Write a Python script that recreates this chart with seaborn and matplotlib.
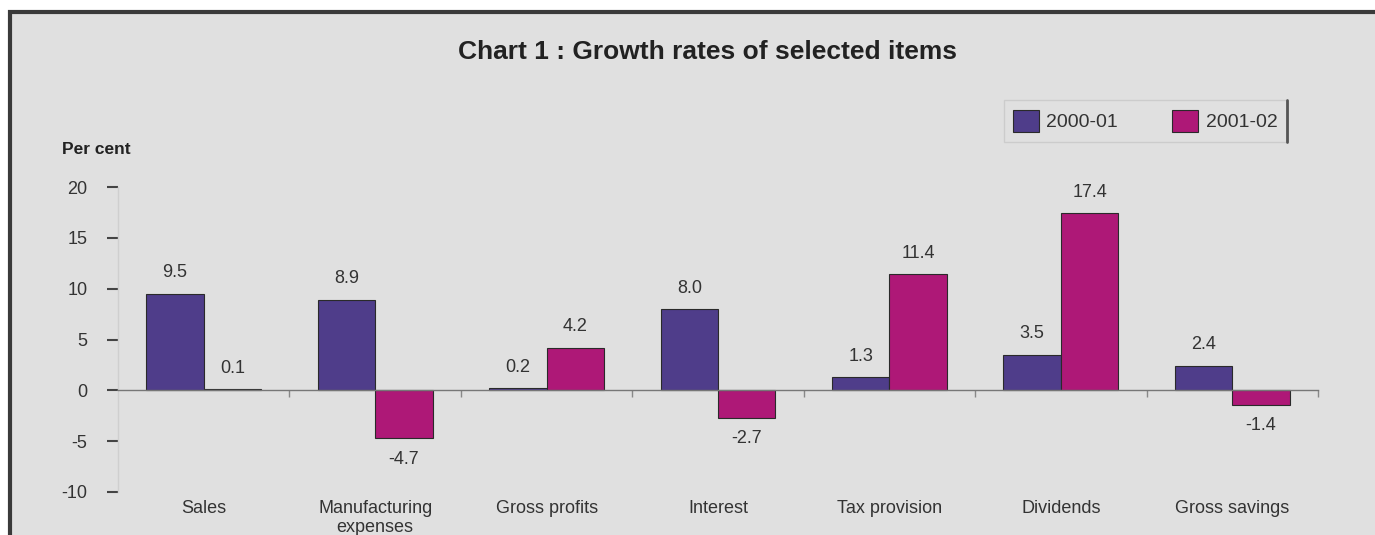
import matplotlib
matplotlib.use("Agg")
import matplotlib.pyplot as plt
import matplotlib.transforms as mtransforms
from matplotlib.patches import Rectangle
from matplotlib.lines import Line2D
import seaborn as sns
import pandas as pd

categories = ["Sales", "Manufacturing\nexpenses", "Gross profits", "Interest",
              "Tax provision", "Dividends", "Gross savings"]
series_names = ["2000-01", "2001-02"]
values_2000_01 = [9.5, 8.9, 0.2, 8.0, 1.3, 3.5, 2.4]
values_2001_02 = [0.1, -4.7, 4.2, -2.7, 11.4, 17.4, -1.4]
y_ticks = [-10, -5, 0, 5, 10, 15, 20]

df = pd.DataFrame({
    "category": categories * 2,
    "series": [series_names[0]] * len(categories) + [series_names[1]] * len(categories),
    "value": values_2000_01 + values_2001_02,
})

sns.set_theme(style="white")
plt.rcParams["font.family"] = ["Liberation Sans", "DejaVu Sans"]

BG = "#e0e0e0"
BLUE = "#4f3d8a"
PINK = "#ae1877"
TXT = "#333333"

fig = plt.figure(figsize=(13.75, 5.35), dpi=100, facecolor="white")
# gray panel with dark frame
fig.add_artist(Rectangle((10 / 1375, -0.05), 1.2, 1 - 12 / 535 + 0.05,
                         transform=fig.transFigure, facecolor=BG,
                         edgecolor="#3a3a3a", linewidth=3, zorder=0))

ax = fig.add_axes([118 / 1375, 1 - 492 / 535, 1200 / 1375, 305 / 535])
ax.set_facecolor("none")

sns.barplot(data=df, x="category", y="value", hue="series",
            palette=[BLUE, PINK], width=0.67, ax=ax,
            edgecolor="#2a2a2a", linewidth=0.8, saturation=1, legend=True)

ax.set_ylim(-10, 20)
ax.set_xlim(-0.5, len(categories) - 0.5)
ax.set_yticks(y_ticks)
ax.set_yticklabels([str(t) for t in y_ticks], fontsize=13, color=TXT)
ax.tick_params(axis="y", direction="out", length=8, width=1.5, color="#444444", pad=14, left=True)
for s in ["top", "right"]:
    ax.spines[s].set_visible(False)
ax.spines["left"].set_color("#cfcfcf")
ax.spines["left"].set_linewidth(1)
ax.spines["bottom"].set_position(("data", 0))
ax.spines["bottom"].set_color("#777777")
ax.spines["bottom"].set_linewidth(1)

ax.set_xticks([i + 0.5 for i in range(len(categories))])
ax.set_xticklabels([])
ax.tick_params(axis="x", direction="out", length=5, width=1, color="#888888", bottom=True)
ax.set_xlabel("")
ax.set_ylabel("")

# category labels
trans = mtransforms.blended_transform_factory(ax.transData, ax.transAxes)
for i, c in enumerate(categories):
    ax.text(i, -0.025, c, transform=trans, ha="center", va="top",
            fontsize=13, color=TXT, linespacing=1.2)

# value labels
for container, vals in zip(ax.containers, [values_2000_01, values_2001_02]):
    ax.bar_label(container, labels=[f"{v:.1f}" for v in vals], padding=9,
                 fontsize=13, color=TXT)

# legend
handles, labels = ax.get_legend_handles_labels()
leg = ax.legend(handles, labels, ncol=2, loc="upper right",
                bbox_to_anchor=(1287 / 1375, 1 - 100 / 535), bbox_transform=fig.transFigure,
                borderaxespad=0, frameon=True, fontsize=14, handlelength=1.3,
                handleheight=1.4, columnspacing=2.8, handletextpad=0.4,
                borderpad=0.5, fancybox=False)
leg.get_frame().set_facecolor(BG)
leg.get_frame().set_edgecolor("#c8c8c8")
for t in leg.get_texts():
    t.set_color(TXT)
fig.add_artist(Line2D([1287 / 1375, 1287 / 1375], [1 - 100 / 535, 1 - 142 / 535],
                      transform=fig.transFigure, color="#555555", linewidth=2))

fig.text(707 / 1375, 1 - 52 / 535, "Chart 1 : Growth rates of selected items",
         ha="center", va="center", fontsize=19, fontweight="bold", color="#222222")
fig.text(62 / 1375, 1 - 150 / 535, "Per cent", ha="left", va="center",
         fontsize=12.5, fontweight="bold", color="#222222")

fig.savefig("out.png", dpi=100, facecolor="white")
